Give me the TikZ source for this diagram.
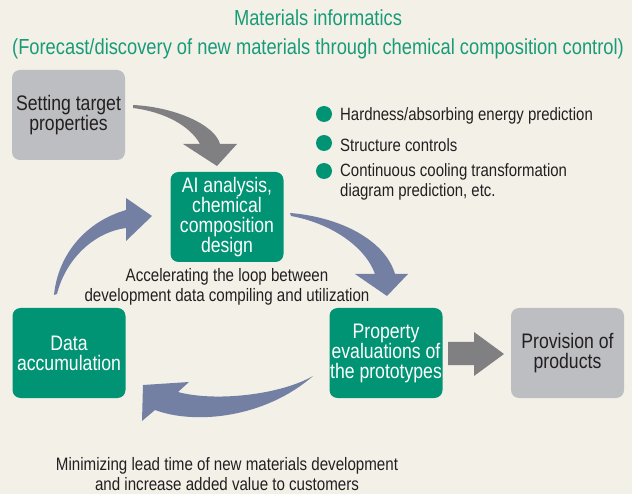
\documentclass[tikz,border=0pt]{standalone}
\usepackage{fontspec}
\setmainfont{Liberation Sans}[FakeStretch=0.84]
\usepackage{tikz}

\definecolor{migreen}{RGB}{0,148,117}
\definecolor{titlegreen}{RGB}{24,155,120}
\definecolor{boxgrey}{RGB}{189,190,193}
\definecolor{arrowgrey}{RGB}{128,128,131}
\definecolor{loopblue}{RGB}{115,128,163}
\definecolor{paper}{RGB}{243,240,232}
\definecolor{ink}{RGB}{35,31,32}

\begin{document}
\begin{tikzpicture}[x=1pt, y=-1pt,
    stage/.style={rounded corners=8pt, minimum width=113pt, minimum height=90pt,
      inner sep=0pt, align=center, font=\fontsize{21}{20}\selectfont},
    greenstage/.style={stage, fill=migreen, text=white},
    greystage/.style={stage, fill=boxgrey, text=ink},
    note/.style={align=center, text=ink, font=\fontsize{18}{19.5}\selectfont},
    item/.style={anchor=west, align=left, inner sep=0pt, text=ink,
      font=\fontsize{17.8}{19.3}\selectfont}]
    % Paper
    \useasboundingbox (0,0) rectangle (632,494);
    \fill[paper] (0,0) rectangle (632,494);

    % Title
    \node[align=center, text=titlegreen, font=\fontsize{21.8}{29}\selectfont] (title) at (318,34)
      {Materials informatics\\(Forecast/discovery of new materials through chemical composition control)};

    % Stages
    \node[greystage] (target) at (68.5,115) {Setting target\\properties};
    \node[greenstage] (design) at (227,217) {AI analysis,\\chemical\\composition\\design};
    \node[greenstage] (data) at (69,353) {Data\\accumulation};
    \node[greenstage] (eval) at (386,353) {Property\\evaluations of\\the prototypes};
    \node[greystage] (supply) at (567.5,353) {Provision of\\products};

    % Prediction targets
    \foreach \y in {114,143,171}
      \fill[migreen] (324,\y) circle (8);
    \node[item] (hard) at (340,116) {Hardness/absorbing energy prediction};
    \node[item] (struct) at (340,145) {Structure controls};
    \node[item] (cct) at (340,182) {Continuous cooling transformation\\diagram prediction, etc.};

    % Grey arrow: target setting into design
    \fill[arrowgrey] (133,105) .. controls (175,107) and (215,125) .. (220,144)
      -- (237,144) -- (217,166) -- (183,144) -- (200,144)
      .. controls (190,126) and (165,112) .. (133,108) -- cycle;

    % Loop arrows
    \fill[loopblue] (290,213) .. controls (340,217) and (385,240) .. (395,274)
      -- (408,274) -- (387,296) -- (355,274) -- (375,274)
      .. controls (365,246) and (330,223) .. (291,216) -- cycle;
    \fill[loopblue] (313,376) .. controls (280,395) and (215,402) .. (178,392)
      -- (189,382) -- (143,385) -- (142,421) -- (155,410)
      .. controls (195,425) and (265,418) .. (313,376) -- cycle;
    \fill[loopblue] (54,295) .. controls (58,255) and (85,222) .. (126,210)
      -- (126,198) -- (152,216) -- (126,241) -- (126,228)
      .. controls (95,232) and (66,258) .. (57,294) -- cycle;

    % Straight grey arrow to products
    \fill[arrowgrey] (448,342) -- (474,342) -- (474,332) -- (504,354)
      -- (474,376) -- (474,365) -- (448,365) -- cycle;

    % Captions
    \node[note] (loop) at (227,287) {Accelerating the loop between\\development data compiling and utilization};
    \node[note] (goal) at (227,474) {Minimizing lead time of new materials development\\and increase added value to customers};
  \end{tikzpicture}
\end{document}
